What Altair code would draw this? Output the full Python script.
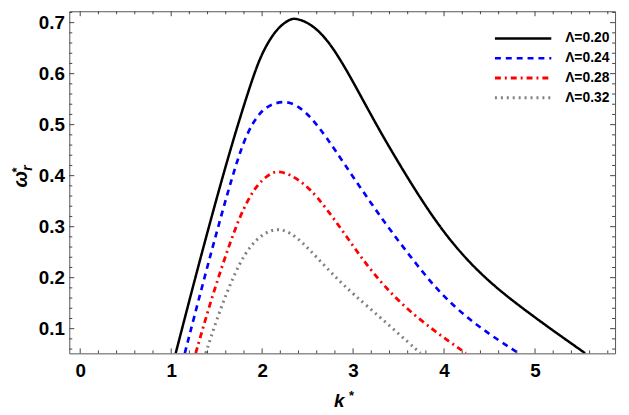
import altair as alt
import pandas as pd

# ---- data ----
labels = ["Λ=0.20", "Λ=0.24", "Λ=0.28", "Λ=0.32"]
colors = ["#000000", "#0000ff", "#ff0000", "#808080"]
dashes = [[1, 0], [6, 5], [6, 4, 2, 4], [2, 4]]
widths = [2.5, 3, 2.5, 2]

k_020 = [1.05, 1.26, 1.49, 1.70, 1.91, 2.00, 2.10, 2.20, 2.30, 2.36, 2.50, 2.65, 2.80, 2.95, 3.10,
         3.25, 3.40, 3.70, 4.00, 4.30, 4.60, 4.90, 5.20, 5.55]
w_020 = [0.052, 0.197, 0.350, 0.482, 0.600, 0.640, 0.672, 0.694, 0.706, 0.709, 0.701, 0.680, 0.645,
         0.600, 0.551, 0.502, 0.455, 0.366, 0.287, 0.225, 0.176, 0.135, 0.096, 0.052]

k_024 = [1.15, 1.35, 1.55, 1.70, 1.80, 1.90, 2.00, 2.10, 2.25, 2.40, 2.55, 2.70, 2.90, 3.15, 3.40,
         3.70, 4.00, 4.40, 4.82]
w_024 = [0.052, 0.190, 0.322, 0.415, 0.468, 0.505, 0.528, 0.540, 0.547, 0.537, 0.512, 0.477, 0.424,
         0.358, 0.295, 0.225, 0.160, 0.100, 0.052]

k_028 = [1.27, 1.40, 1.55, 1.70, 1.80, 1.90, 2.00, 2.10, 2.18, 2.30, 2.45, 2.60, 2.80, 3.00, 3.20,
         3.50, 3.90, 4.24]
w_028 = [0.052, 0.133, 0.218, 0.295, 0.337, 0.370, 0.392, 0.405, 0.409, 0.403, 0.386, 0.360, 0.313,
         0.262, 0.213, 0.152, 0.094, 0.052]

k_032 = [1.38, 1.50, 1.62, 1.75, 1.88, 2.00, 2.10, 2.18, 2.30, 2.45, 2.60, 2.80, 3.00, 3.30, 3.74]
w_032 = [0.052, 0.118, 0.175, 0.228, 0.265, 0.284, 0.293, 0.295, 0.290, 0.268, 0.240, 0.202, 0.168,
         0.122, 0.052]

x_major = [0, 1, 2, 3, 4, 5]
x_minor = [0.2, 0.4, 0.6, 0.8, 1.2, 1.4, 1.6, 1.8, 2.2, 2.4, 2.6, 2.8, 3.2, 3.4, 3.6, 3.8,
           4.2, 4.4, 4.6, 4.8, 5.2, 5.4, 5.6, 5.8]
y_major = [0.1, 0.2, 0.3, 0.4, 0.5, 0.6, 0.7]
y_minor = [0.06, 0.08, 0.12, 0.14, 0.16, 0.18, 0.22, 0.24, 0.26, 0.28, 0.32, 0.34, 0.36, 0.38,
           0.42, 0.44, 0.46, 0.48, 0.52, 0.54, 0.56, 0.58, 0.62, 0.64, 0.66, 0.68, 0.72]

x_domain = [-0.12, 5.88]
y_domain = [0.0516, 0.7223]

# ---- layout ----
W, H = 552, 346
FONT = "Liberation Sans"
FRAME = "#555555"

rows = []
for lab, ks, ws in zip(labels, [k_020, k_024, k_028, k_032], [w_020, w_024, w_028, w_032]):
    for k, w in zip(ks, ws):
        rows.append({"k": k, "w": w, "series": lab})
df = pd.DataFrame(rows)

xs = alt.Scale(domain=x_domain, nice=False, zero=False)
ys = alt.Scale(domain=y_domain, nice=False, zero=False)

x_axis = alt.Axis(values=x_major, format="d", ticks=False, domain=False, grid=False,
                  labelFontSize=19, labelFont=FONT, labelFontWeight="bold", labelColor="black",
                  labelPadding=8, title=None)
y_axis = alt.Axis(values=y_major, format=".1f", ticks=False, domain=False, grid=False,
                  labelFontSize=19, labelFont=FONT, labelFontWeight="bold", labelColor="black",
                  labelPadding=5, title=None)

leg = alt.Legend(
    title=None, orient="none", legendX=447.5, legendY=16,
    symbolType="M-2.85,0H2.85", symbolSize=400, symbolStrokeWidth=2.5,
    labelOffset=31, labelFontSize=14, labelFont=FONT, labelFontWeight="bold",
    labelColor="black", rowPadding=1, padding=0,
)

lines = alt.Chart(df).mark_line(interpolate="basis", clip=True).encode(
    x=alt.X("k:Q", scale=xs, axis=x_axis),
    y=alt.Y("w:Q", scale=ys, axis=y_axis),
    color=alt.Color("series:N", scale=alt.Scale(domain=labels, range=colors), legend=leg),
    strokeDash=alt.StrokeDash("series:N", scale=alt.Scale(domain=labels, range=dashes), legend=leg),
    strokeWidth=alt.StrokeWidth("series:N", scale=alt.Scale(domain=labels, range=widths), legend=None),
)

def xticks(vals, length):
    d = pd.DataFrame({"k": vals})
    bottom = alt.Chart(d).mark_rule(color="#444444", strokeWidth=1).encode(
        x=alt.X("k:Q", scale=xs, axis=x_axis), y=alt.value(H), y2=alt.value(H - length))
    top = alt.Chart(d).mark_rule(color="#444444", strokeWidth=1).encode(
        x=alt.X("k:Q", scale=xs, axis=x_axis), y=alt.value(0), y2=alt.value(length))
    return [bottom, top]

def yticks(vals, length):
    d = pd.DataFrame({"w": vals})
    left = alt.Chart(d).mark_rule(color="#444444", strokeWidth=1).encode(
        y=alt.Y("w:Q", scale=ys, axis=y_axis), x=alt.value(0), x2=alt.value(length))
    right = alt.Chart(d).mark_rule(color="#444444", strokeWidth=1).encode(
        y=alt.Y("w:Q", scale=ys, axis=y_axis), x=alt.value(W), x2=alt.value(W - length))
    return [left, right]

def label(text, x, y, size, angle=0, italic=True, baseline="middle"):
    kw = dict(font=FONT, fontSize=size, fontWeight="bold", color="black",
              align="center", baseline=baseline)
    if italic:
        kw["fontStyle"] = "italic"
    if angle:
        kw["angle"] = angle
    return alt.Chart(pd.DataFrame({"s": [text]})).mark_text(**kw).encode(
        x=alt.value(x), y=alt.value(y), text="s:N")

titles = [
    label("k", 273, 400, 19, baseline="alphabetic"),
    label("*", 285.5, 393, 13, italic=False, baseline="alphabetic"),
    label("ω", -49, 170, 20, angle=270),
    label("*", -53, 160.5, 13, angle=270, italic=False),
    label("r", -42, 158.5, 14, angle=270),
]

layers = [lines] + xticks(x_major, 5) + xticks(x_minor, 3) + yticks(y_major, 5) + yticks(y_minor, 3) + titles

chart = alt.layer(*layers).properties(
    width=W, height=H,
    autosize=alt.AutoSizeParams(type="none"),
    padding={"left": 62, "top": 1, "right": 6, "bottom": 56},
).configure_view(stroke=FRAME, strokeWidth=1)

chart.save("out.html", embed_options={"renderer": "svg", "actions": False})
